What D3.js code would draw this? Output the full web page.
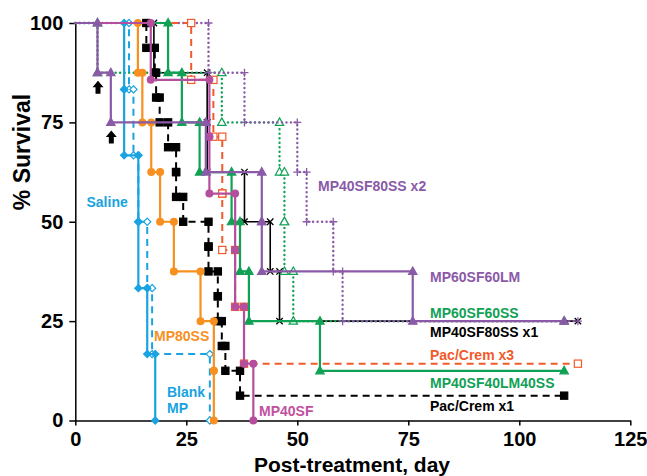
<!DOCTYPE html>
<html>
<head>
<meta charset="utf-8">
<script src="https://cdn.jsdelivr.net/npm/d3@7"></script>
<style>
body { margin: 0; background: #ffffff; }
text { font-family: "Liberation Sans", Arial, Helvetica, sans-serif; font-weight: bold; }
</style>
</head>
<body>
<script>
const width = 647;
const height = 476;

// Each group: day of each death and the % survival right after it.
// "End" is the last follow-up day (censored), null when the group reached 0.
const salineDays = [11, 11, 14.2, 14.2, 16.2, 18];
const salineSurv = [83.3, 66.7, 50, 33.3, 16.7, 0];

const blankDays = [12.1, 13.1, 14.2, 16.2, 17.3, 30.3];
const blankSurv = [83.3, 66.7, 50, 33.3, 16.7, 0];

const mp80Days = [14.1, 15.1, 17.1, 19.1, 22.2, 28.2, 31.2, 31.2];
const mp80Surv = [87.5, 75, 62.5, 50, 37.5, 25, 12.5, 0];

const pac1Days = [16.0, 17.9, 18.2, 19.0, 20.9, 22.7, 22.7, 24.3, 30.0, 30.0, 32.1, 32.1, 33.0, 33.8, 37.1];
const pac1Surv = [93.75, 87.5, 81.25, 75, 68.75, 62.5, 56.25, 50, 43.75, 37.5, 31.25, 25, 18.75, 12.5, 6.25];
const pac1End = 110.1;

const mp40sfDays = [17.0, 30.2, 30.2, 36.0, 36.0, 38.0, 40.1];
const mp40sfSurv = [85.7, 71.4, 57.1, 42.9, 28.6, 14.3, 0];

const pac3Days = [26.1, 31.1, 33.1, 33.1, 36.0, 38.0];
const pac3Surv = [85.7, 71.4, 57.1, 42.9, 28.6, 14.3];
const pac3End = 113.2;

const sf80x1Days = [17.7, 29.7, 29.7, 38.1, 43.9, 46.0];
const sf80x1Surv = [87.5, 75, 62.5, 50, 37.5, 25];
const sf80x1End = 113.2;

const sf80x2Days = [30.0, 38.1, 50.0, 52.1, 58.1, 60.2];
const sf80x2Surv = [87.5, 75, 62.5, 50, 37.5, 25];
const sf80x2End = 113.2;

const lmDays = [5.0, 8.0, 29.4, 42.0, 42.0, 76.0];
const lmSurv = [87.5, 75, 62.5, 50, 37.5, 25];
const lmEnd = 110.1;

const ss60Days = [5.0, 33.0, 46.0, 47.1, 47.1, 49.1];
const ss60Surv = [87.5, 75, 62.5, 50, 37.5, 25];
const ss60End = 110.1;

const lm40Days = [20.9, 24.0, 28.0, 35.2, 37.1, 39.1, 55.1];
const lm40Surv = [87.5, 75, 62.5, 50, 37.5, 25, 12.5];
const lm40End = 110.1;

// early non-tumour deaths marked with arrows
const arrowDays = [5, 8];
const arrowSurv = [87.5, 75];

const xTicks = [0, 25, 50, 75, 100, 125];
const yTicks = [0, 25, 50, 75, 100];

// colours
const BLUE = "#19a3e1";
const ORANGE = "#f7901e";
const MAGENTA = "#b54e9c";
const RED = "#f15a2b";
const PURPLE = "#8a5aa7";
const GREEN = "#11a155";

// drawing order: dotted first, solids on top
const series = [
    { days: sf80x1Days, surv: sf80x1Surv, end: sf80x1End, color: "#000000", dash: null, w: 1.6, sym: "x" },
    { days: ss60Days, surv: ss60Surv, end: ss60End, color: GREEN, dash: "0.1,4.4", w: 2.4, sym: "triOpen" },
    { days: sf80x2Days, surv: sf80x2Surv, end: sf80x2End, color: PURPLE, dash: "0.1,4.4", w: 2.4, sym: "plus" },
    { days: pac3Days, surv: pac3Surv, end: pac3End, color: RED, dash: "7,5", w: 2, sym: "squareOpen" },
    { days: blankDays, surv: blankSurv, end: null, color: BLUE, dash: "7,5", w: 2, sym: "diamondOpen" },
    { days: pac1Days, surv: pac1Surv, end: pac1End, color: "#000000", dash: "7,5", w: 2, sym: "square" },
    { days: lm40Days, surv: lm40Surv, end: lm40End, color: GREEN, dash: null, w: 2.2, sym: "tri" },
    { days: mp80Days, surv: mp80Surv, end: null, color: ORANGE, dash: null, w: 2.2, sym: "circle" },
    { days: salineDays, surv: salineSurv, end: null, color: BLUE, dash: null, w: 2.2, sym: "diamond" },
    { days: mp40sfDays, surv: mp40sfSurv, end: null, color: MAGENTA, dash: null, w: 2.2, sym: "circle" },
    { days: lmDays, surv: lmSurv, end: lmEnd, color: PURPLE, dash: null, w: 2.2, sym: "tri" }
];

const svg = d3.select("body").append("svg")
    .attr("width", width)
    .attr("height", height);

const x = d3.scaleLinear().domain([0, 125]).range([75.3, 630.3]);
const y = d3.scaleLinear().domain([0, 100]).range([420.5, 23]);

//Axes
const xAxis = svg.append("g")
    .attr("transform", `translate(0, ${y(0)})`)
    .call(d3.axisBottom(x).tickValues(xTicks).tickSize(5).tickSizeOuter(0).tickPadding(6));
const yAxis = svg.append("g")
    .attr("transform", `translate(${x(0)}, 0)`)
    .call(d3.axisLeft(y).tickValues(yTicks).tickSize(6).tickSizeOuter(0).tickPadding(6));

[xAxis, yAxis].forEach(a => {
    a.select(".domain").attr("stroke", "#000").attr("stroke-width", 1.5);
    a.selectAll(".tick line").attr("stroke", "#000").attr("stroke-width", 1.5);
    a.selectAll(".tick text")
        .style("font-size", "20px")
        .style("font-family", "'Liberation Sans', Arial, sans-serif")
        .style("font-weight", "bold")
        .attr("fill", "#000");
});

svg.append("text")
    .attr("x", 352)
    .attr("y", 472)
    .attr("text-anchor", "middle")
    .style("font-size", "21px")
    .text("Post-treatment, day");

svg.append("text")
    .attr("transform", "translate(30, 152) rotate(-90)")
    .attr("text-anchor", "middle")
    .style("font-size", "23px")
    .text("% Survival");

//Survival curves
const line = d3.line()
    .x(d => x(d[0]))
    .y(d => y(d[1]))
    .curve(d3.curveStepAfter);

function marker(g, sym, cx, cy, color) {
    if (sym === "circle") {
        g.append("circle").attr("cx", cx).attr("cy", cy).attr("r", 4).attr("fill", color);
    } else if (sym === "diamond" || sym === "diamondOpen") {
        const r = 3.6;
        g.append("path")
            .attr("d", `M${cx},${cy - r}L${cx + r},${cy}L${cx},${cy + r}L${cx - r},${cy}Z`)
            .attr("fill", sym === "diamond" ? color : "#fff")
            .attr("stroke", color).attr("stroke-width", 1.2);
    } else if (sym === "square" || sym === "squareOpen") {
        const r = 3.6;
        g.append("rect").attr("x", cx - r).attr("y", cy - r).attr("width", 2 * r).attr("height", 2 * r)
            .attr("fill", sym === "square" ? color : "#fff")
            .attr("stroke", color).attr("stroke-width", 1.2);
    } else if (sym === "tri" || sym === "triOpen") {
        g.append("path")
            .attr("d", `M${cx},${cy - 4.5}L${cx + 4.2},${cy + 3}L${cx - 4.2},${cy + 3}Z`)
            .attr("fill", sym === "tri" ? color : "#fff")
            .attr("stroke", color).attr("stroke-width", 1.2);
    } else if (sym === "x") {
        const r = 3.2;
        g.append("path")
            .attr("d", `M${cx - r},${cy - r}L${cx + r},${cy + r}M${cx - r},${cy + r}L${cx + r},${cy - r}`)
            .attr("stroke", color).attr("stroke-width", 1.3);
    } else if (sym === "plus") {
        const r = 4;
        g.append("path")
            .attr("d", `M${cx - r},${cy}L${cx + r},${cy}M${cx},${cy - r}L${cx},${cy + r}`)
            .attr("stroke", color).attr("stroke-width", 1.3);
    }
}

series.forEach(s => {
    const pts = [[0, 100]];
    s.days.forEach((d, i) => pts.push([d, s.surv[i]]));
    if (s.end !== null) pts.push([s.end, s.surv[s.surv.length - 1]]);

    svg.append("path")
        .datum(pts)
        .attr("d", line)
        .attr("fill", "none")
        .attr("stroke", s.color)
        .attr("stroke-width", s.w)
        .attr("stroke-linecap", s.dash && s.dash.startsWith("0.1") ? "round" : "butt")
        .attr("stroke-dasharray", s.dash);

    const g = svg.append("g");
    let prev = 100;
    s.days.forEach((d, i) => {
        marker(g, s.sym, x(d), y(prev), s.color);
        marker(g, s.sym, x(d), y(s.surv[i]), s.color);
        prev = s.surv[i];
    });
    if (s.end !== null) marker(g, s.sym, x(s.end), y(prev), s.color);
});

//Arrows
arrowDays.forEach((d, i) => {
    const cx = x(d) + 0.5;
    const top = y(arrowSurv[i]) + 8;
    svg.append("path")
        .attr("d", `M${cx},${top}L${cx + 5.5},${top + 6.5}L${cx + 2.5},${top + 6.5}L${cx + 2.5},${top + 13}` +
            `L${cx - 2.5},${top + 13}L${cx - 2.5},${top + 6.5}L${cx - 5.5},${top + 6.5}Z`)
        .attr("fill", "#000");
});

//Group labels
const labels = [
    ["Saline", 86.5, 207, BLUE],
    ["MP80SS", 154, 341, ORANGE],
    ["Blank", 167, 397, BLUE],
    ["MP", 167, 413, BLUE],
    ["MP40SF", 259, 416, "#c150a0"],
    ["MP40SF80SS x2", 318, 191, PURPLE],
    ["MP60SF60LM", 430, 282, PURPLE],
    ["MP60SF60SS", 430, 317.5, GREEN],
    ["MP40SF80SS x1", 430, 337, "#000000"],
    ["Pac/Crem x3", 430, 360, RED],
    ["MP40SF40LM40SS", 430, 388, GREEN],
    ["Pac/Crem x1", 430, 410.5, "#000000"]
];

labels.forEach(l => {
    svg.append("text")
        .attr("x", l[1])
        .attr("y", l[2])
        .text(l[0])
        .style("font-size", "14px")
        .style("fill", l[3]);
});
</script>
</body>
</html>
